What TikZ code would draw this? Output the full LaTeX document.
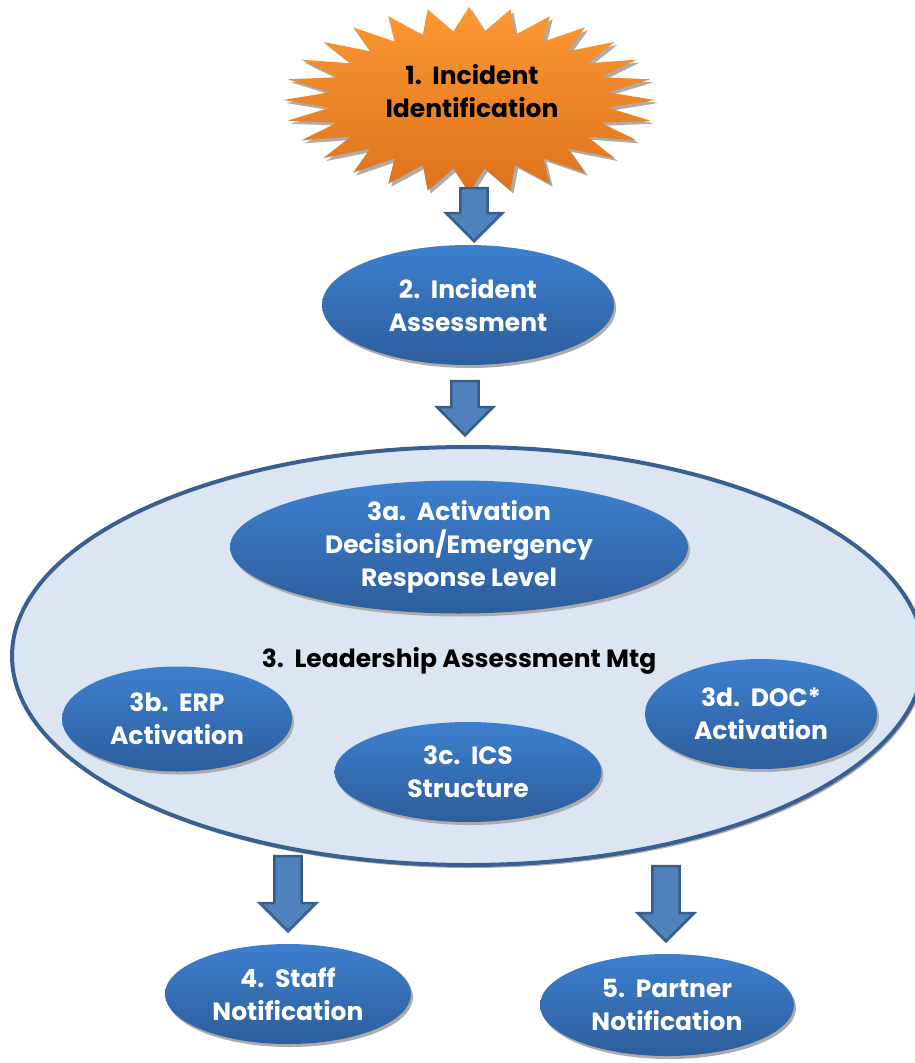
\documentclass[tikz,border=0pt]{standalone}
\usepackage{fontspec}
\setmainfont{Poppins}
\usepackage{xcolor}
\definecolor{BLUETOP}{RGB}{61,128,206}
\definecolor{BLUEBOT}{RGB}{45,93,156}
\definecolor{ARROWFILL}{RGB}{79,129,189}
\definecolor{ARROWLINE}{RGB}{56,93,138}
\definecolor{LEADFILL}{RGB}{220,230,242}
\definecolor{LEADLINE}{RGB}{58,96,146}
\definecolor{STARTOP}{RGB}{252,152,50}
\definecolor{STARBOT}{RGB}{222,114,30}
\colorlet{SHADOWCOLOR}{gray!65}
\usetikzlibrary{shapes,arrows,positioning,calc,shadows}
\tikzset{
  text-style/.style = {
    align=center, font=\bfseries\fontsize{25}{33}\selectfont
  },
  step-style/.style = {
    ellipse, text-style, text=white, inner sep=0pt,
    top color=BLUETOP, bottom color=BLUEBOT,
    drop shadow={shadow xshift=2pt, shadow yshift=-3pt, fill=SHADOWCOLOR, opacity=1},
    minimum width=#1
  },
  lead-style/.style = {
    ellipse, draw=LEADLINE, line width=4pt, fill=LEADFILL,
    drop shadow={shadow xshift=2pt, shadow yshift=-3pt, fill=SHADOWCOLOR, opacity=1},
    minimum width=912pt, minimum height=418pt
  },
  blockarrow-style/.style = {
    single arrow, shape border rotate=270, draw=ARROWLINE, fill=ARROWFILL,
    line width=2.5pt, inner sep=12pt, single arrow head extend=14pt,
    minimum width=56pt, minimum height=#1, anchor=tip
  }
}
\begin{document}
\begin{tikzpicture}[x=1pt,y=-1pt]
    \useasboundingbox (0,0) rectangle (915,1063);
    \clip (0,0) rectangle (915,1063);

    %%% incident star
    \begin{scope}[shift={(469,100)}]
      \fill[SHADOWCOLOR] ([shift={(3,3)}]90:186 and 93)
        \foreach \i in {0,...,27} { -- ([shift={(3,3)}]{90+360/28*\i}:186 and 93)
          -- ([shift={(3,3)}]{90+180/28+360/28*\i}:140 and 69) } -- cycle;
      \shade[top color=STARTOP, bottom color=STARBOT] (90:186 and 93)
        \foreach \i in {0,...,27} { -- ({90+360/28*\i}:186 and 93)
          -- ({90+180/28+360/28*\i}:140 and 69) } -- cycle;
    \end{scope}
    \node[text-style] (identify) at (472,91) {1.\ \ Incident\\Identification};

    %%% assessment
    \node[step-style=292pt, minimum height=120pt] (assess) at (468,305) {2.\ \ Incident\\Assessment};

    %%% leadership meeting
    \node[lead-style] (lead) at (468,656) {};
    \node[text-style] (leadLabel) at (459,661) {3.\ \ Leadership Assessment Mtg};
    \node[step-style=458pt, minimum height=133pt] (activate) at (459,547) {3a.\ \ Activation\\Decision/Emergency\\Response Level};
    \node[step-style=230pt, minimum height=105pt] (erp) at (177,719) {3b.\ \ ERP\\Activation};
    \node[step-style=267pt, minimum height=100pt] (ics) at (468,772) {3c.\ \ ICS\\Structure};
    \node[step-style=232pt, minimum height=110pt] (doc) at (761,714) {3d.\ \ DOC*\\Activation};

    %%% notifications
    \node[step-style=246pt, minimum height=100pt] (staff) at (288,994) {4.\ \ Staff\\Notification};
    \node[step-style=254pt, minimum height=102pt] (partner) at (667,1005) {5.\ \ Partner\\Notification};

    %%% arrows
    \node[blockarrow-style=53pt] (arrowA) at (474,243) {};
    \node[blockarrow-style=54pt] (arrowB) at (465,437) {};
    \node[blockarrow-style=75pt] (arrowC) at (288,933) {};
    \node[blockarrow-style=75pt] (arrowD) at (666,943) {};
\end{tikzpicture}
\end{document}
